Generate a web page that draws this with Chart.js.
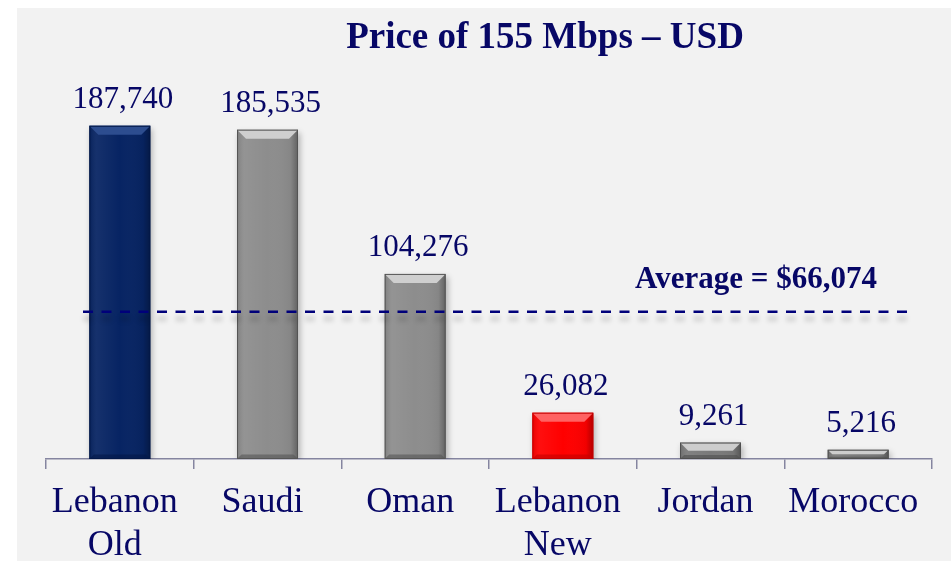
<!DOCTYPE html>
<html>
<head>
<meta charset="utf-8">
<script src="https://cdn.jsdelivr.net/npm/chart.js@4/dist/chart.umd.min.js"></script>
<style>
  html, body { margin: 0; padding: 0; background: #fff; }
  #wrap { position: relative; width: 951px; height: 561px; }
</style>
</head>
<body>
<div id="wrap"><canvas id="priceChart" width="951" height="561"></canvas></div>
<script>
const CATEGORIES = [["Lebanon", "Old"], ["Saudi"], ["Oman"], ["Lebanon", "New"], ["Jordan"], ["Morocco"]];
const PRICES = [187740, 185535, 104276, 26082, 9261, 5216];
const AVERAGE = 66074;
const AVERAGE_LINE_LEVEL = 83000; // the dashed line sits here in the original picture
const Y_MAX = 200000;
const TITLE = "Price of 155 Mbps \u2013 USD";

const NAVY = "#070766";
const FONT = "'Liberation Serif', 'Times New Roman', serif";
const BAR_COLORS = ["#072463", "#8d8d8d", "#8d8d8d", "#ff0000", "#7a7a7a", "#7a7a7a"];
const BAR_LIGHT = ["#2d4d8f", "#cfcfcf", "#cfcfcf", "#ff6262", "#cdcdcd", "#cdcdcd"];
const BAR_DARK = ["#031848", "#555555", "#555555", "#c40000", "#4f4f4f", "#4f4f4f"];

function formatNumber(v) {
  return v.toLocaleString("en-US");
}

const backgroundPlugin = {
  id: "panelBackground",
  beforeDraw(chart) {
    const ctx = chart.ctx;
    ctx.save();
    ctx.fillStyle = "#f2f2f2";
    ctx.fillRect(17, 8, chart.width - 17, chart.height - 8);
    ctx.restore();
  },
};

const shadowPlugin = {
  id: "barShadow",
  beforeDatasetsDraw(chart) {
    const ctx = chart.ctx;
    ctx.save();
    ctx.shadowColor = "rgba(0, 0, 0, 0.28)";
    ctx.shadowBlur = 6;
    ctx.shadowOffsetX = 2;
    ctx.shadowOffsetY = 3;
  },
  afterDatasetsDraw(chart) {
    chart.ctx.restore();
  },
};

const bevelPlugin = {
  id: "barBevel",
  afterDatasetsDraw(chart) {
    const ctx = chart.ctx;
    const meta = chart.getDatasetMeta(0);
    ctx.save();
    meta.data.forEach((bar, i) => {
      const left = bar.x - bar.width / 2;
      const right = bar.x + bar.width / 2;
      const top = bar.y;
      const bottom = bar.base;
      const b = Math.min(9, (bottom - top) / 2);

      // side shading
      const grad = ctx.createLinearGradient(left, 0, right, 0);
      grad.addColorStop(0, "rgba(0,0,0,0.10)");
      grad.addColorStop(0.12, "rgba(255,255,255,0.06)");
      grad.addColorStop(0.5, "rgba(255,255,255,0.0)");
      grad.addColorStop(0.88, "rgba(0,0,0,0.05)");
      grad.addColorStop(1, "rgba(0,0,0,0.30)");
      ctx.fillStyle = grad;
      ctx.fillRect(left, top, right - left, bottom - top);

      // top bevel
      ctx.fillStyle = BAR_LIGHT[i];
      ctx.beginPath();
      ctx.moveTo(left, top);
      ctx.lineTo(right, top);
      ctx.lineTo(right - b, top + b);
      ctx.lineTo(left + b, top + b);
      ctx.closePath();
      ctx.fill();

      // bottom bevel
      ctx.fillStyle = BAR_DARK[i];
      ctx.globalAlpha = 0.6;
      ctx.beginPath();
      ctx.moveTo(left, bottom);
      ctx.lineTo(right, bottom);
      ctx.lineTo(right - b * 0.5, bottom - b * 0.5);
      ctx.lineTo(left + b * 0.5, bottom - b * 0.5);
      ctx.closePath();
      ctx.fill();
      ctx.globalAlpha = 1;

      ctx.strokeStyle = BAR_DARK[i];
      ctx.lineWidth = 1;
      ctx.strokeRect(left + 0.5, top + 0.5, right - left - 1, bottom - top - 1);
    });
    ctx.restore();
  },
};

const labelPlugin = {
  id: "valueLabels",
  afterDatasetsDraw(chart) {
    const ctx = chart.ctx;
    const meta = chart.getDatasetMeta(0);
    ctx.save();
    ctx.font = "31px " + FONT;
    ctx.fillStyle = NAVY;
    ctx.textAlign = "center";
    ctx.textBaseline = "alphabetic";
    meta.data.forEach((bar, i) => {
      ctx.fillText(formatNumber(PRICES[i]), bar.x + 3, bar.y - 18);
    });
    ctx.restore();
  },
};

const averagePlugin = {
  id: "averageLine",
  afterDatasetsDraw(chart) {
    const ctx = chart.ctx;
    const area = chart.chartArea;
    const y = chart.scales.y.getPixelForValue(AVERAGE_LINE_LEVEL);
    const x0 = area.left + 37;
    const x1 = area.right - 19;
    ctx.save();
    ctx.setLineDash([10, 8.5]);
    ctx.strokeStyle = "rgba(0, 0, 0, 0.10)";
    ctx.lineWidth = 6;
    ctx.filter = "blur(2px)";
    ctx.beginPath();
    ctx.moveTo(x0, y + 7);
    ctx.lineTo(x1, y + 7);
    ctx.stroke();
    ctx.filter = "none";
    ctx.strokeStyle = "#00007a";
    ctx.lineWidth = 2.5;
    ctx.beginPath();
    ctx.moveTo(x0, y);
    ctx.lineTo(x1, y);
    ctx.stroke();
    ctx.setLineDash([]);

    ctx.font = "bold 31px " + FONT;
    ctx.fillStyle = NAVY;
    ctx.textAlign = "center";
    ctx.textBaseline = "alphabetic";
    ctx.fillText("Average = $" + formatNumber(AVERAGE), 756, y - 24);
    ctx.restore();
  },
};

const titlePlugin = {
  id: "chartTitle",
  afterDraw(chart) {
    const ctx = chart.ctx;
    ctx.save();
    ctx.font = "bold 37px " + FONT;
    ctx.fillStyle = NAVY;
    ctx.textAlign = "center";
    ctx.textBaseline = "alphabetic";
    ctx.fillText(TITLE, 545, 48);
    ctx.restore();
  },
};

new Chart(document.getElementById("priceChart"), {
  type: "bar",
  data: {
    labels: CATEGORIES,
    datasets: [
      {
        data: PRICES,
        backgroundColor: BAR_COLORS,
        borderWidth: 0,
        barPercentage: 0.413,
        categoryPercentage: 1,
      },
    ],
  },
  options: {
    responsive: false,
    animation: false,
    devicePixelRatio: 1,
    layout: {
      padding: { left: 46, right: 19, top: 104, bottom: 0 },
    },
    scales: {
      x: {
        grid: {
          display: true,
          drawOnChartArea: false,
          drawTicks: true,
          tickLength: 10,
          color: "#8585a0",
          lineWidth: 1.5,
        },
        border: { display: true, color: "#8585a0", width: 1.5 },
        ticks: {
          color: NAVY,
          font: { family: FONT, size: 36, lineHeight: 1.2 },
          padding: 12,
          labelOffset: -5,
          maxRotation: 0,
          autoSkip: false,
        },
        afterFit(scale) {
          scale.height = 102;
        },
      },
      y: {
        display: false,
        min: 0,
        max: Y_MAX,
      },
    },
    plugins: {
      legend: { display: false },
      tooltip: { enabled: false },
      title: { display: false },
    },
  },
  plugins: [backgroundPlugin, shadowPlugin, bevelPlugin, labelPlugin, averagePlugin, titlePlugin],
});
</script>
</body>
</html>
